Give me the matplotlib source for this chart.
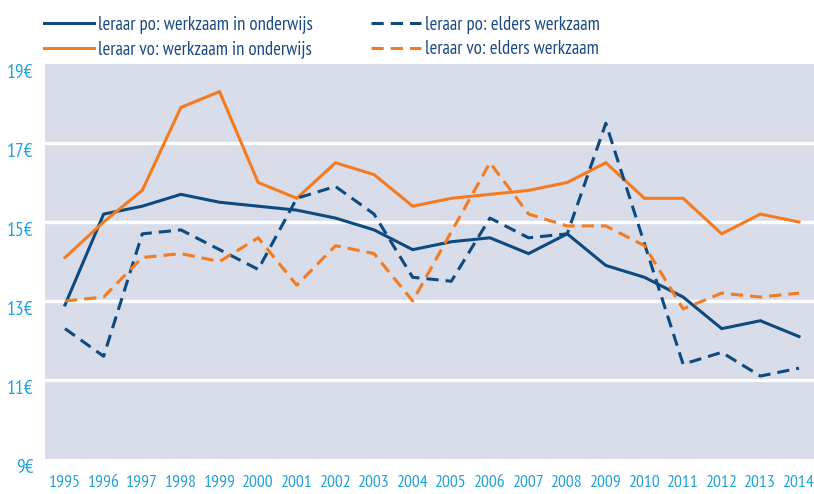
import matplotlib
matplotlib.use("Agg")
import matplotlib.pyplot as plt

# data (euro per hour)
years = list(range(1995, 2015))
po_werkzaam = [12.9, 15.2, 15.4, 15.7, 15.5, 15.4, 15.3, 15.1, 14.8, 14.3,
               14.5, 14.6, 14.2, 14.7, 13.9, 13.6, 13.1, 12.3, 12.5, 12.1]
vo_werkzaam = [14.1, 15.0, 15.8, 17.9, 18.3, 16.0, 15.6, 16.5, 16.2, 15.4,
               15.6, 15.7, 15.8, 16.0, 16.5, 15.6, 15.6, 14.7, 15.2, 15.0]
po_elders = [12.3, 11.6, 14.7, 14.8, 14.3, 13.8, 15.6, 15.9, 15.2, 13.6,
             13.5, 15.1, 14.6, 14.7, 17.5, 14.45, 11.4, 11.7, 11.1, 11.3]
vo_elders = [13.0, 13.1, 14.1, 14.2, 14.0, 14.6, 13.4, 14.4, 14.2, 13.0,
             14.75, 16.5, 15.2, 14.9, 14.9, 14.4, 12.8, 13.2, 13.1, 13.2]

y_ticks = [9, 11, 13, 15, 17, 19]
y_labels = [f"{v}€" for v in y_ticks]

labels = ["leraar po: werkzaam in onderwijs", "leraar vo: werkzaam in onderwijs",
          "leraar po: elders werkzaam", "leraar vo: elders werkzaam"]

BLUE = "#0e4a80"
ORANGE = "#f47b20"
TICK = "#21a3df"
BG = "#d8dde9"

plt.rcParams["font.family"] = ["PT Sans Narrow", "DejaVu Sans"]

fig = plt.figure(figsize=(8.14, 4.94), dpi=100)
W, H = 814, 494
ax = fig.add_axes([45 / W, (H - 459) / H, 1 - 45 / W, (459 - 64) / H])
ax.set_facecolor(BG)

lw = 2.2
dash = (4.0, 2.3)
ax.plot(years, po_werkzaam, color=BLUE, lw=lw, label=labels[0], solid_joinstyle="miter")
ax.plot(years, vo_werkzaam, color=ORANGE, lw=lw, label=labels[1], solid_joinstyle="miter")
ax.plot(years, po_elders, color=BLUE, lw=lw, dashes=dash, label=labels[2])
ax.plot(years, vo_elders, color=ORANGE, lw=lw, dashes=dash, label=labels[3])

ax.set_xlim(1995 - 20 / 38.63, 2014 + 15 / 38.63)
ax.set_ylim(9, 19)

for v in y_ticks[1:-1]:
    ax.axhline(v, color="white", lw=2.4, zorder=0.5)

ax.set_yticks(y_ticks, y_labels)
ax.set_xticks(years, [str(y) for y in years])
ax.tick_params(axis="y", length=0, pad=8.5, labelsize=14, labelcolor=TICK)
ax.tick_params(axis="x", length=0, pad=11.5, labelsize=12.8, labelcolor=TICK)
for t in ax.get_yticklabels():
    t.set_verticalalignment("top")
for s in ax.spines.values():
    s.set_visible(False)

# legend above the plot, two columns
handles, labs = ax.get_legend_handles_labels()
leg = fig.legend(handles, labs, ncol=2, loc="upper left",
                 bbox_to_anchor=(44 / W, 1 - 16 / H), frameon=False,
                 borderpad=0, borderaxespad=0,
                 fontsize=13.5, handlelength=2.67, handletextpad=0.21,
                 columnspacing=3.1, labelspacing=0.33)
for t in leg.get_texts():
    t.set_color("#1b4a85")

fig.savefig("out.png", dpi=100)
